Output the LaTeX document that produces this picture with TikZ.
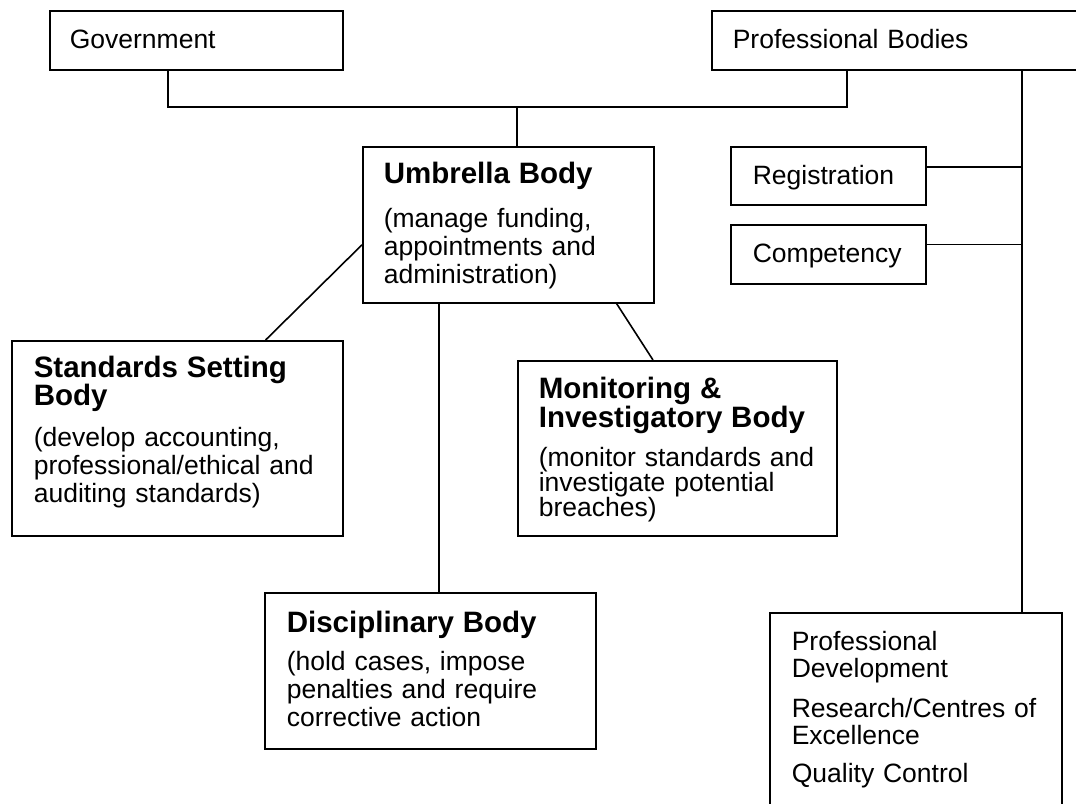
\documentclass[tikz,border=0pt]{standalone}
\usepackage{fontspec}
\setmainfont{Liberation Sans}
\usepackage{tikz}
\newcommand{\boxtitle}[1]{{\fontsize{29.5}{28}\selectfont\bfseries #1}}

\begin{document}
\begin{tikzpicture}[x=1pt,y=-1pt,
    box/.style n args={4}{draw,line width=1.6pt,anchor=north west,align=left,
      inner ysep=0pt,inner xsep=#1,text width=#2,text height=#3,text depth=#4,
      font=\fontsize{26.5}{28}\selectfont},
    link/.style={line width=1.6pt}]
          \useasboundingbox (0,0) rectangle (1076,803);
          \clip (0,0) rectangle (1076,803);
          \node[box={20pt}{253pt}{38pt}{21pt}] (gov) at (49,10) {Government};
          \node[box={21pt}{348pt}{38pt}{21pt}] (pb) at (711,10) {Professional Bodies};
          \node[box={22pt}{151pt}{38pt}{20pt}] (reg) at (730,146) {Registration};
          \node[box={22pt}{151pt}{38pt}{21pt}] (comp) at (730,224) {Competency};
          \node[box={21pt}{249pt}{37pt}{119pt}] (umb) at (362,146)
            {\boxtitle{Umbrella Body}\\[16pt](manage funding,\\appointments and\\administration)};
          \node[box={22pt}{287pt}{37pt}{158pt}] (std) at (11,340)
            {\boxtitle{Standards Setting}\\\boxtitle{Body}\\[13pt](develop accounting,\\professional/ethical and\\auditing standards)};
          \node[box={21pt}{277pt}{38pt}{137pt},font=\fontsize{26.5}{25}\selectfont] (mon) at (517,360)
            {\boxtitle{Monitoring \&}\\\boxtitle{Investigatory Body}\\[13pt](monitor standards and\\investigate potential\\breaches)};
          \node[box={22pt}{287pt}{40pt}{116pt}] (disc) at (264,592)
            {\boxtitle{Disciplinary Body}\\[10pt](hold cases, impose\\penalties and require\\corrective action};
          \node[box={22pt}{248pt}{38pt}{180pt},font=\fontsize{26.5}{27}\selectfont] (more) at (769,612)
            {Professional\\Development\\[13pt]Research/Centres of\\Excellence\\[11pt]Quality Control};
          \coordinate (bus) at (517,107);
          \coordinate (rail) at (1022,0);
          \draw[link] ([xshift=119pt]gov.south west) |- (bus) -| ([xshift=136pt]pb.south west);
          \draw[link] (bus) -- (bus |- umb.north);
          \draw[link] (rail |- pb.south) -- (rail |- more.north);
          \draw[link] ([yshift=9pt]reg.east) -- ([yshift=9pt]reg.east -| rail);
          \draw[link] ([yshift=10pt]comp.east) -- ([yshift=10pt]comp.east -| rail);
          \draw[link] ([yshift=-20pt]umb.west) -- ([xshift=-78pt]std.north east);
          \draw[link] ([xshift=77pt]umb.south west) coordinate (d0) -- (d0 |- disc.north);
          \draw[link] ([xshift=-38pt]umb.south east) -- ([xshift=136pt]mon.north west);
        \end{tikzpicture}
\end{document}
